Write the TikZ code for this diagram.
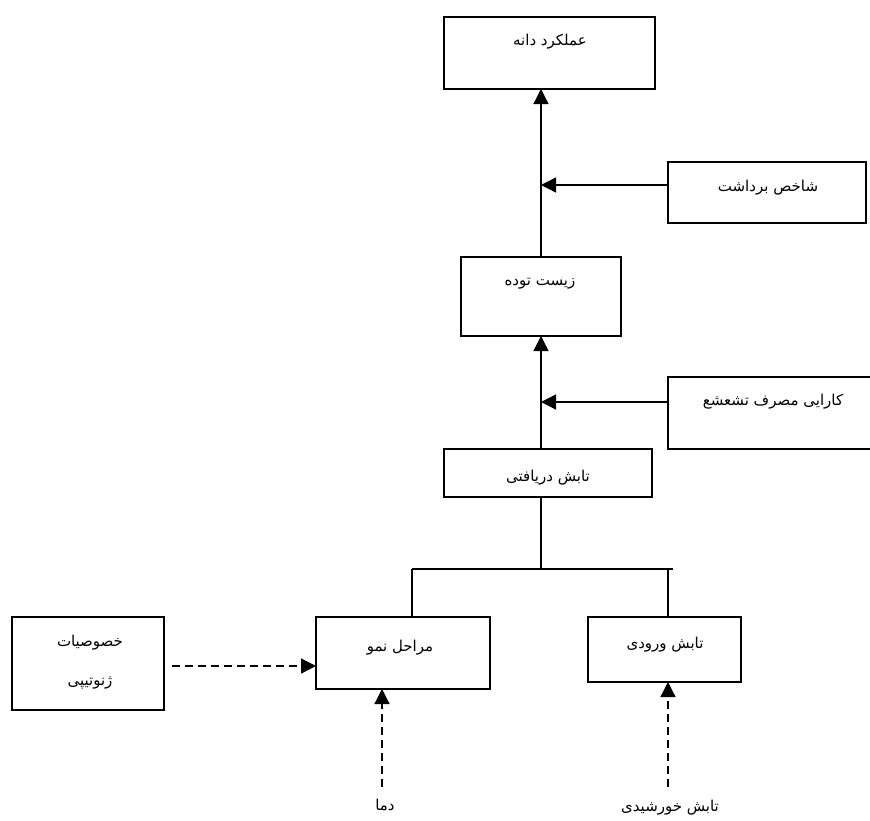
\documentclass[tikz,border=0pt]{standalone}
\usepackage{fontspec}
\usetikzlibrary{arrows.meta}
\TeXXeTstate=1
\newfontfamily\fa[Script=Arabic]{DejaVu Sans}
\begin{document}
\begin{tikzpicture}[x=1pt,y=-1pt,
  box/.style={draw, line width=1.3pt, rectangle, inner sep=0pt, outer sep=0pt},
  txt/.style={font=\fa\fontsize{15}{18}\selectfont, inner sep=0pt},
  conn/.style={line width=1.3pt},
  arr/.style={line width=1.3pt, -{Triangle[length=15pt,width=15pt]}},
  darr/.style={line width=1.3pt, dash pattern=on 8pt off 5pt, -{Triangle[length=15pt,width=15pt]}}]
\useasboundingbox (0,0) rectangle (870,820);
% boxes
\node[box, minimum width=211pt, minimum height=72pt] (yield) at (549.5,53) {};
\node[box, minimum width=198pt, minimum height=61pt] (hi) at (767,192.5) {};
\node[box, minimum width=160pt, minimum height=79pt] (bio) at (541,296.5) {};
\node[box, minimum width=210pt, minimum height=72pt] (rue) at (773,413) {};
\node[box, minimum width=208pt, minimum height=48pt] (ic) at (548,473) {};
\node[box, minimum width=152pt, minimum height=93pt] (geno) at (88,663.5) {};
\node[box, minimum width=174pt, minimum height=72pt] (phen) at (403,653) {};
\node[box, minimum width=153pt, minimum height=65pt] (inc) at (664.5,649.5) {};
% texts
\node[txt] (tyield) at (550,42) {\beginR عملکرد دانه\endR};
\node[txt] (thi) at (768,188) {\beginR شاخص برداشت\endR};
\node[txt] (tbio) at (540,284) {\beginR زیست توده\endR};
\node[txt] (true) at (773,402) {\beginR کارایی مصرف تشعشع\endR};
\node[txt] (tic) at (548,478) {\beginR تابش دریافتی\endR};
\node[txt] (tgeno1) at (90,643) {\beginR خصوصیات\endR};
\node[txt] (tgeno2) at (90,683) {\beginR ژنوتیپی\endR};
\node[txt] (tphen) at (400,648) {\beginR مراحل نمو\endR};
\node[txt] (tinc) at (665,645) {\beginR تابش ورودی\endR};
\node[txt] (dama) at (385,805) {\beginR دما\endR};
\node[txt] (sun) at (670,808) {\beginR تابش خورشیدی\endR};
% main spine
\draw[arr] (bio.north) -- (bio.north |- yield.south);
\draw[arr] (bio.south |- ic.north) -- (bio.south);
\draw[arr] ([yshift=7.5pt]hi.west) -- ([yshift=7.5pt]hi.west -| bio.north);
\draw[arr] ([yshift=11pt]rue.west) -- ([yshift=11pt]rue.west -| bio.north);
% bottom tree
\coordinate (jm) at (541,569);
\coordinate (jl) at (412,569);
\coordinate (jr) at (673,569);
\coordinate (jr2) at (668,569);
\draw[conn] (jm |- ic.south) -- (jm);
\draw[conn] (jl) -- (jr);
\draw[conn] (jl) -- (jl |- phen.north);
\draw[conn] (jr2) -- (jr2 |- inc.north);
% dashed inputs
\coordinate (ga) at (172,666);
\draw[darr] (ga) -- (ga -| phen.west);
\coordinate (ds) at (382,787);
\draw[darr] (ds) -- (ds |- phen.south);
\coordinate (ss) at (668,787);
\draw[darr] (ss) -- (ss |- inc.south);
\end{tikzpicture}
\end{document}
